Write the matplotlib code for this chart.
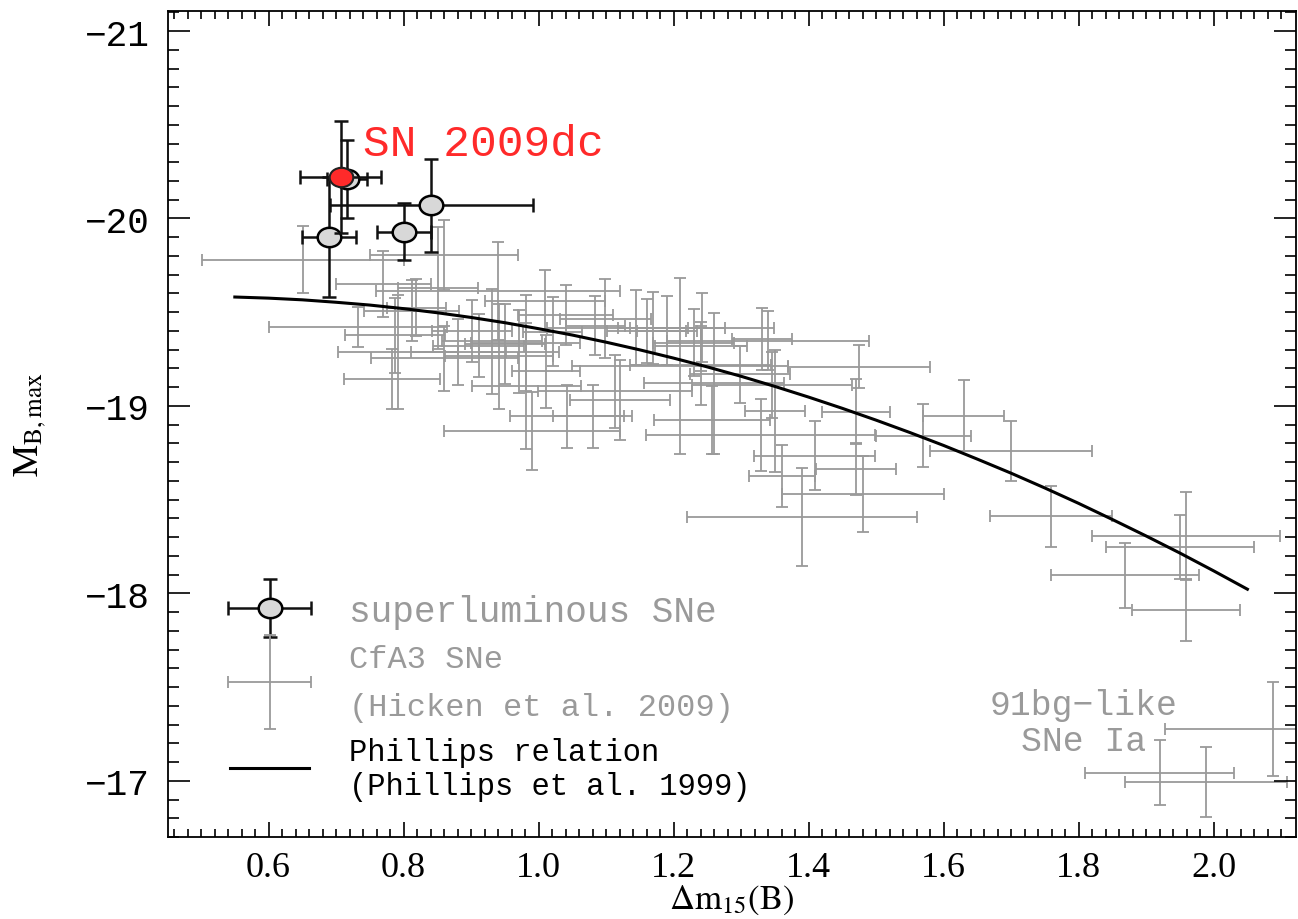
import numpy as np
import matplotlib
matplotlib.use("Agg")
import matplotlib.pyplot as plt
from matplotlib.path import Path
from matplotlib.legend_handler import HandlerErrorbar

plt.rcParams['mathtext.fontset'] = 'stix'
plt.rcParams['font.family'] = ['Liberation Mono', 'DejaVu Sans Mono']

# Phillips relation (Phillips et al. 1999)
phil_dm15 = [0.55, 0.60, 0.65, 0.70, 0.75, 0.80, 0.85, 0.90, 0.95, 1.00, 1.05,
             1.10, 1.15, 1.20, 1.25, 1.30, 1.35, 1.40, 1.45, 1.50, 1.55, 1.60,
             1.65, 1.70, 1.75, 1.80, 1.85, 1.90, 1.95, 2.00, 2.05]
phil_mb = [-19.581, -19.575, -19.566, -19.553, -19.538, -19.519, -19.497, -19.472,
           -19.444, -19.412, -19.378, -19.340, -19.299, -19.255, -19.208, -19.158,
           -19.104, -19.047, -18.987, -18.924, -18.858, -18.789, -18.716, -18.641,
           -18.562, -18.480, -18.394, -18.306, -18.215, -18.120, -18.022]

# CfA3 SNe (Hicken et al. 2009)
cfa_dm15 = [0.651, 0.860, 0.770, 0.940, 1.010, 0.812, 0.819, 0.792, 0.851, 0.901,
            0.911, 0.881, 0.931, 0.941, 0.981, 0.990, 1.011, 1.042, 1.080, 1.040,
            1.099, 1.084, 0.982, 1.113, 0.732, 1.210, 1.260, 1.230, 1.144, 1.160,
            1.170, 1.190, 1.121, 1.240, 1.299, 1.331, 1.340, 1.346, 1.350, 1.480,
            1.360, 1.409, 1.390, 1.470, 1.470, 1.700, 1.630, 1.570, 1.759, 1.959,
            1.950, 1.959, 1.869, 2.088, 1.920, 1.989, 0.787, 0.783, 0.860, 0.950,
            0.971, 1.021, 1.242, 1.475, 1.257, 1.329, 1.240]
cfa_mb = [-19.779, -19.807, -19.649, -19.615, -19.560, -19.509, -19.525, -19.287, -19.631, -19.400,
          -19.322, -19.290, -19.344, -19.264, -19.338, -18.866, -19.184, -18.944, -18.944, -19.487,
          -19.466, -19.429, -19.104, -19.077, -19.423, -19.214, -19.120, -19.338, -19.418, -19.400,
          -19.418, -19.402, -19.031, -19.216, -19.168, -19.357, -19.349, -19.112, -18.973, -18.531,
          -18.628, -18.735, -18.409, -18.969, -18.662, -18.759, -18.948, -18.841, -18.410, -18.305,
          -18.246, -17.911, -18.097, -17.275, -17.044, -16.994, -19.376, -19.141, -19.253, -19.329,
          -19.289, -19.397, -19.418, -19.210, -18.923, -18.843, -19.317]
cfa_dm15_err = [0.150, 0.110, 0.070, 0.181, 0.089, 0.070, 0.044, 0.089, 0.059, 0.059,
                0.067, 0.070, 0.074, 0.080, 0.081, 0.130, 0.050, 0.085, 0.059, 0.070,
                0.067, 0.044, 0.081, 0.114, 0.132, 0.160, 0.104, 0.060, 0.132, 0.059,
                0.052, 0.044, 0.074, 0.104, 0.074, 0.044, 0.150, 0.119, 0.044, 0.120,
                0.049, 0.090, 0.170, 0.050, 0.059, 0.120, 0.060, 0.070, 0.090, 0.139,
                0.110, 0.080, 0.110, 0.160, 0.110, 0.120, 0.074, 0.071, 0.109, 0.059,
                0.059, 0.044, 0.107, 0.105, 0.086, 0.170, 0.068]
cfa_mb_err = [0.179, 0.186, 0.176, 0.261, 0.165, 0.165, 0.154, 0.304, 0.325, 0.165,
              0.170, 0.176, 0.282, 0.282, 0.256, 0.208, 0.197, 0.170, 0.170, 0.160,
              0.213, 0.160, 0.336, 0.197, 0.107, 0.469, 0.378, 0.181, 0.200, 0.170,
              0.192, 0.186, 0.213, 0.213, 0.154, 0.165, 0.160, 0.176, 0.325, 0.202,
              0.165, 0.186, 0.261, 0.174, 0.138, 0.162, 0.189, 0.169, 0.164, 0.234,
              0.170, 0.165, 0.173, 0.250, 0.173, 0.186, 0.202, 0.160, 0.176, 0.213,
              0.222, 0.184, 0.186, 0.117, 0.181, 0.192, 0.133]

# superluminous SNe
sl_dm15 = [0.716, 0.690, 0.801, 0.841]
sl_mb = [-20.21, -19.90, -19.93, -20.07]
sl_dm15_err = [0.03, 0.04, 0.04, 0.15]
sl_mb_err = [0.21, 0.32, 0.15, 0.25]

# SN 2009dc
dc_dm15 = [0.707]
dc_mb = [-20.22]
dc_dm15_err = [0.06]
dc_mb_err = [0.30]

xticks = [0.6, 0.8, 1.0, 1.2, 1.4, 1.6, 1.8, 2.0]
xtick_labels = ['0.6', '0.8', '1.0', '1.2', '1.4', '1.6', '1.8', '2.0']
yticks = [-21, -20, -19, -18, -17]
ytick_labels = ['\u221221', '\u221220', '\u221219', '\u221218', '\u221217']

gray = '#9a9a9a'

circ = Path.unit_circle()
ellipse = Path(circ.vertices * np.array([1.0, 0.82]), circ.codes)

fig = plt.figure(figsize=(12.98, 9.2), dpi=100)
ax = fig.add_axes([168 / 1298, 82 / 920, 1128 / 1298, 826 / 920])

cfa = ax.errorbar(cfa_dm15, cfa_mb, xerr=cfa_dm15_err, yerr=cfa_mb_err, fmt='none',
                  ecolor=gray, elinewidth=1.3, capsize=4.5, capthick=1.3, zorder=1)

phil, = ax.plot(phil_dm15, phil_mb, color='black', lw=2.2, zorder=2)

ax.errorbar(sl_dm15, sl_mb, xerr=sl_dm15_err, yerr=sl_mb_err, fmt='none',
            ecolor='#111111', elinewidth=1.8, capsize=5, capthick=1.8, zorder=3)
ax.plot(sl_dm15, sl_mb, ls='none', marker=ellipse, ms=17, mfc='#d8d8d8',
        mec='black', mew=1.8, zorder=4)
ax.errorbar(dc_dm15, dc_mb, xerr=dc_dm15_err, yerr=dc_mb_err, fmt='none',
            ecolor='#111111', elinewidth=1.8, capsize=5, capthick=1.8, zorder=5)
ax.plot(dc_dm15, dc_mb, ls='none', marker=ellipse, ms=17, mfc='#ff2a2a',
        mec='#222222', mew=1.5, zorder=6)

# legend proxy for superluminous SNe
sl_proxy = ax.errorbar([np.nan], [np.nan], xerr=[0.1], yerr=[0.1], fmt='o',
                       color='#111111', elinewidth=1.8, capsize=5, capthick=1.8,
                       marker=ellipse, ms=17, mfc='#d8d8d8', mec='black', mew=1.8)

ax.text(0.740, -20.40, 'SN 2009dc', color='#ff2a2a', fontsize=32,
        ha='left', va='center')
ax.text(1.807, -17.31, '91bg\u2212like\nSNe Ia', color=gray, fontsize=25,
        ha='center', va='center', linespacing=1.1)

leg = ax.legend([sl_proxy, cfa, phil],
                ['superluminous SNe', 'CfA3 SNe\n(Hicken et al. 2009)',
                 'Phillips relation\n(Phillips et al. 1999)'],
                handler_map={sl_proxy: HandlerErrorbar(xerr_size=1.15, yerr_size=0.8),
                             cfa: HandlerErrorbar(xerr_size=1.15, yerr_size=1.3)},
                loc='upper left', bbox_to_anchor=(0.055, 0.2945), frameon=False,
                fontsize=26, handlelength=2.2, handletextpad=1.1,
                labelspacing=0.42, borderpad=0, borderaxespad=0, numpoints=1)
texts = leg.get_texts()
texts[0].set_color(gray)
texts[1].set_color(gray)
texts[1].set_fontsize(23)
texts[1].set_linespacing(1.8)
texts[2].set_color('black')
texts[2].set_fontsize(22)
texts[2].set_linespacing(1.17)

ax.set_xlim(0.451, 2.122)
ax.set_ylim(-16.707, -21.107)

ax.set_xticks(xticks)
ax.set_xticklabels(xtick_labels, fontfamily='Liberation Serif', fontsize=26)
ax.set_xticks(np.arange(0.46, 2.12, 0.02), minor=True)
ax.set_yticks(yticks)
ax.set_yticklabels(ytick_labels, fontsize=26)
ax.set_yticks(np.arange(-21.1, -16.7, 0.1), minor=True)

ax.tick_params(which='both', direction='in', top=True, right=True, width=1.2)
ax.tick_params(axis='x', which='major', length=11, pad=10)
ax.tick_params(axis='x', which='minor', length=5.5)
ax.tick_params(axis='y', which='major', length=16, pad=13)
ax.tick_params(axis='y', which='minor', length=8)
for s in ax.spines.values():
    s.set_linewidth(1.3)

ax.set_xlabel(r'$\Delta\mathrm{m}_{15}\mathrm{(B)}$', fontsize=25, labelpad=-1)
ax.set_ylabel(r'$\mathrm{M}_{\mathrm{B,max}}$', fontsize=26, labelpad=27)

fig.savefig('out.png', dpi=100)
